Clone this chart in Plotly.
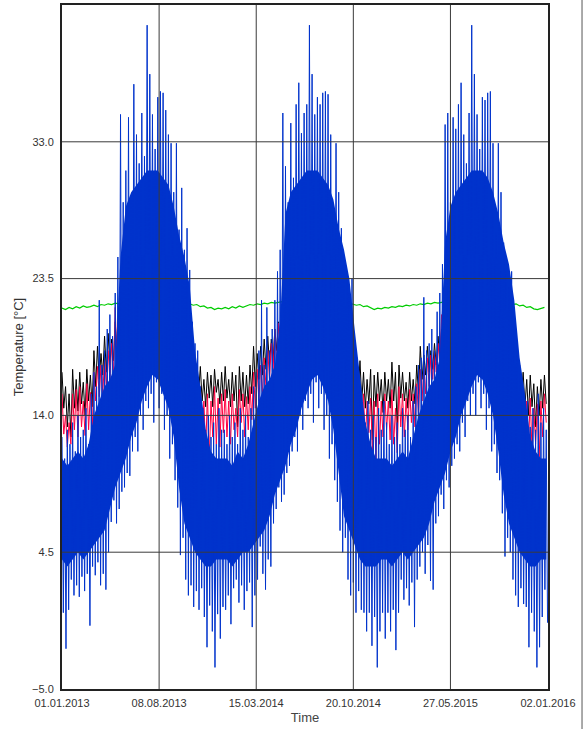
import pandas as pd
import plotly.graph_objects as go

# ---------------- data ----------------
START = "2013-01-01"
END = "2016-01-02"

# outdoor temperature (blue): sampled every 6 days, alternating high / low readings
blue_hi = [
    12.5, 11.0, 13.0, 12.0, 13.5, 11.5, 14.0, 12.5, 13.0, 14.5,
    12.0, 15.5, 17.0, 16.0, 22.0, 17.5, 18.5, 20.0, 21.0, 19.5,
    22.5, 25.0, 34.9, 28.8, 31.0, 34.7, 29.0, 37.0, 33.5, 31.5,
    35.0, 32.0, 41.1, 37.7, 34.9, 32.5, 36.1, 36.5, 36.4, 35.2,
    33.5, 32.9, 29.5, 32.9, 26.9, 29.8, 25.5, 27.0, 24.1, 20.5,
    19.0, 18.5, 16.0, 14.5, 13.0, 14.0, 12.5, 13.5, 12.0, 14.5,
    13.0,
    13.0, 12.0, 14.0, 12.5, 13.5, 12.0, 14.5, 13.0, 14.0, 12.5,
    14.5, 16.0, 17.0, 18.5, 22.0, 17.5, 21.5, 18.5, 20.0, 22.0,
    24.0, 25.5, 35.0, 31.3, 28.8, 34.3, 30.5, 35.6, 37.1, 33.6,
    35.0, 35.6, 41.1, 37.7, 34.9, 36.1, 35.6, 36.4, 36.5, 36.3,
    33.5, 28.1, 32.9, 29.5, 27.0, 25.0, 24.0, 22.5, 23.5, 19.0,
    18.0, 16.0, 14.5, 13.5, 15.0, 13.0, 14.0, 12.5, 14.5, 13.0,
    15.0,
    13.5, 12.0, 14.0, 12.5, 13.5, 12.0, 14.5, 13.0, 14.0, 12.5,
    15.0, 16.0, 17.5, 18.0, 22.2, 18.5, 19.0, 20.0, 18.5, 21.2,
    22.5, 24.5, 34.2, 35.0, 28.8, 34.7, 33.9, 35.6, 37.1, 33.5,
    31.5, 35.0, 41.1, 37.7, 34.9, 32.5, 36.1, 35.9, 36.4, 36.5,
    32.9, 26.7, 32.9, 29.5, 26.0, 24.0, 22.9, 24.0, 20.5, 19.0,
    17.0, 15.8, 14.0, 15.0, 13.2, 14.5, 13.0, 15.5, 13.5, 14.5,
    13.0,
]
blue_lo = [
    0.3, -2.2, 0.5, 2.6, 1.5, 2.2, 1.4, 2.8, 1.8, 3.0,
    -0.6, 3.5, 2.9, 3.8, 2.2, 3.0, 1.9, 4.5, 6.6, 8.1,
    6.5, 7.5, 8.7, 9.0, 10.0, 9.8, 11.5, 12.5, 11.5, 14.0,
    13.0, 15.0, 14.5, 15.5, 13.5, 16.3, 14.5, 15.5, 13.0, 14.0,
    11.0, 12.0, 9.5, 7.6, 4.3, 5.5, 2.6, 1.5, 2.2, 0.7,
    1.8, 0.5, 2.0, 0.0, -2.1, 0.8, -1.0, -3.5, 0.2, -1.5,
    0.7,
    0.5, 1.5, -0.5, 2.0, 2.6, 1.0, 2.2, 0.5, 1.8, 2.4,
    -0.7, 1.5, 2.6, 4.9, 3.0, 1.9, 4.0, 3.5, 6.5, 7.5,
    9.0, 8.0, 8.5, 10.0, 10.5, 11.5, 12.5, 11.5, 14.0, 13.0,
    15.0, 14.5, 15.5, 13.5, 16.3, 14.5, 15.5, 13.0, 14.0, 11.0,
    12.0, 9.5, 8.0, 6.0, 4.5, 5.5, 2.6, 1.5, 2.4, 0.3,
    1.8, 0.5, 0.3, -1.0, 0.3, -2.0, 0.0, -3.5, -1.0, 0.3,
    -1.5,
    0.3, -1.0, 0.5, -2.3, 0.3, 2.6, 1.2, 2.0, 0.8, 2.4,
    -0.7, 2.6, 3.5, 4.5, 3.0, 5.0, 2.5, 1.9, 6.5, 7.0,
    8.5, 7.5, 9.5, 9.0, 10.5, 11.0, 12.0, 11.5, 13.5, 12.5,
    15.0, 14.0, 15.5, 14.0, 16.3, 14.5, 15.5, 13.0, 14.5, 11.5,
    12.0, 10.0, 9.5, 7.2, 4.2, 5.5, 4.5, 2.6, 1.5, 0.7,
    2.0, 0.9, 0.7, -2.1, 0.3, -1.0, -3.5, -2.1, 0.0, 1.9,
    -0.4,
]
# dense core of the blue series (where the hourly trace is solid), every 12 days
blue_core_hi = [
    11.0, 10.5, 11.0, 11.5, 11.0, 12.0, 14.0, 15.0, 16.0, 16.5, 17.5, 25.0, 28.5, 29.5, 30.0, 30.5,
    31.0, 31.0, 31.0, 30.5, 30.0, 28.5, 26.5, 25.0, 23.0, 18.5, 16.0, 13.0, 11.5, 11.0, 11.0,
    11.0, 10.5, 11.5, 11.0, 12.0, 13.5, 15.0, 16.0, 16.5, 17.5, 20.5, 28.0, 29.5, 30.0, 30.5,
    31.0, 31.0, 31.0, 30.5, 30.0, 29.0, 27.0, 25.5, 23.5, 20.0, 16.5, 13.5, 12.0, 11.0, 11.0,
    11.0, 10.5, 11.0, 11.5, 11.0, 12.5, 14.0, 15.0, 16.0, 16.5, 18.0, 26.0, 28.5, 29.5, 30.0, 30.5,
    31.0, 31.0, 31.0, 30.5, 29.5, 28.0, 26.0, 24.5, 22.0, 18.0, 15.5, 12.5, 11.5, 11.0, 11.0,
]
blue_core_lo = [
    4.0, 3.5, 4.0, 4.5, 4.0, 4.5, 5.0, 5.5, 6.0, 7.5, 9.0, 10.0, 11.0, 12.5, 13.5, 15.0,
    16.0, 16.8, 16.5, 15.5, 14.5, 12.5, 9.0, 6.5, 5.5, 4.5, 4.0, 3.5, 3.5, 4.0, 4.0,
    4.0, 3.5, 4.0, 4.5, 4.5, 5.0, 5.5, 6.0, 7.0, 8.5, 9.5, 10.5, 12.0, 13.0, 14.5,
    15.5, 16.5, 16.8, 16.0, 15.0, 13.0, 10.0, 7.0, 6.0, 5.0, 4.0, 3.5, 3.5, 3.5, 4.0,
    4.0, 3.5, 4.0, 4.5, 4.0, 4.5, 5.0, 5.5, 6.5, 8.0, 9.0, 10.0, 11.5, 12.5, 14.0, 15.0,
    16.0, 16.8, 16.5, 15.5, 14.0, 11.5, 8.5, 6.5, 5.5, 4.5, 4.0, 3.5, 3.5, 4.0, 4.0,
]

# black / red / green series: sampled every 8 days
black_hi = [
    17.0, 16.0, 15.5, 17.2, 16.5, 17.0, 16.3, 17.2, 16.8, 18.5,
    18.8, 18.3, 19.5, 19.7, 19.3, 20.5, 20.5,
    20.8, 21.0, 20.6, 21.2, 20.9, 21.1, 20.7, 21.0, 21.2, 20.8, 21.0, 20.6, 20.9, 20.5, 20.2, 19.8, 19.5,
    19.0, 18.8, 18.2, 18.6, 17.5, 17.4, 16.5, 17.0, 16.8, 17.2, 16.5, 17.0,
    17.4, 16.5, 17.0, 16.8, 17.4, 17.0, 16.8, 17.5, 18.8, 18.3, 18.8, 19.3, 19.5, 19.3, 20.0, 20.5,
    20.8, 21.0, 20.6, 21.2, 20.9, 21.1, 20.7, 21.0, 21.2, 20.8, 21.0, 20.6, 20.9, 20.5, 20.2, 19.9, 19.7,
    19.5, 19.0, 18.5, 18.0, 17.4, 17.8, 17.0, 16.5, 17.2, 16.8, 17.0, 16.5, 17.0,
    16.5, 17.7, 17.0, 17.5, 17.0, 16.3, 17.0, 16.5, 17.5, 18.8, 18.2, 18.8, 18.5, 19.0, 19.5, 20.0, 20.5,
    20.8, 21.0, 20.6, 21.2, 20.9, 21.1, 20.7, 21.0, 21.2, 20.8, 21.0, 20.6, 20.9, 20.5, 20.2, 19.5, 18.8,
    18.0, 17.7, 17.2, 17.5, 17.0, 16.5, 16.8, 16.2, 16.0, 16.5, 16.8,
]
black_lo = [
    14.5, 13.2, 12.5, 14.5, 14.3, 14.8, 14.0, 15.0, 14.6, 16.0,
    16.5, 16.8, 17.0, 17.5, 17.8, 18.5, 19.0,
    19.2, 19.5, 19.0, 19.6, 19.3, 19.5, 19.1, 19.4, 19.6, 19.2, 19.4, 19.0, 19.3, 18.9, 18.6, 18.2, 18.0,
    17.5, 17.0, 16.8, 16.5, 15.5, 15.0, 14.6, 15.2, 14.6, 15.6, 14.8, 15.0,
    15.2, 14.6, 15.0, 13.2, 15.0, 14.6, 14.8, 15.5, 16.0, 16.5, 16.8, 17.2, 17.5, 17.8, 18.5, 19.0,
    19.2, 19.5, 19.0, 19.6, 19.3, 19.5, 19.1, 19.4, 19.6, 19.2, 19.4, 19.0, 19.3, 18.9, 18.6, 18.3, 18.0,
    17.8, 17.4, 16.8, 16.5, 15.5, 15.0, 14.5, 14.8, 12.3, 14.6, 15.0, 14.2, 15.0,
    14.5, 15.0, 13.0, 15.2, 15.0, 14.5, 15.0, 14.8, 15.5, 16.5, 16.8, 17.0, 17.2, 17.5, 18.0, 18.5, 19.0,
    19.2, 19.5, 19.0, 19.6, 19.3, 19.5, 19.1, 19.4, 19.6, 19.2, 19.4, 19.0, 19.3, 18.9, 18.6, 18.0, 17.2,
    16.5, 16.0, 15.8, 15.5, 14.6, 14.0, 14.6, 13.2, 14.0, 14.5, 14.8,
]
red_hi = [
    15.5, 14.0, 13.5, 15.5, 15.8, 16.0, 15.0, 16.2, 15.6, 17.0,
    17.4, 17.5, 18.0, 18.5, 19.0, 21.5, 20.5,
    20.6, 20.8, 20.4, 21.0, 20.7, 20.9, 20.5, 20.8, 21.0, 20.6, 20.8, 20.4, 20.7, 20.3, 19.8, 19.2, 18.8,
    18.0, 17.8, 17.5, 17.0, 16.5, 16.0, 15.0, 15.5, 15.0, 16.0, 15.2, 15.5,
    15.8, 15.0, 15.5, 14.5, 15.8, 15.5, 15.3, 16.0, 17.0, 17.2, 17.5, 18.0, 18.5, 19.0, 20.0, 20.4,
    20.6, 20.8, 20.4, 21.0, 20.7, 20.9, 20.5, 20.8, 21.0, 20.6, 20.8, 20.4, 20.7, 20.3, 19.9, 19.4, 19.0,
    18.5, 18.0, 17.5, 17.0, 16.5, 16.0, 15.5, 15.0, 15.2, 15.0, 15.5, 15.0, 15.5,
    15.0, 15.8, 14.5, 16.0, 15.5, 15.2, 15.8, 15.5, 16.2, 17.2, 17.5, 18.0, 18.2, 18.5, 19.0, 21.0, 21.5,
    20.6, 20.8, 20.4, 21.0, 20.7, 20.9, 20.5, 20.8, 21.0, 20.6, 20.8, 20.4, 20.7, 20.3, 19.8, 18.8, 18.0,
    17.0, 16.5, 16.2, 16.0, 15.5, 15.0, 15.2, 14.5, 14.8, 15.0, 15.5,
]
red_lo = [
    12.7, 11.8, 12.0, 13.0, 12.5, 13.2, 12.6, 13.0, 12.8, 15.0,
    15.3, 15.5, 16.0, 16.5, 16.8, 17.5, 18.0,
    18.6, 19.0, 18.5, 19.2, 18.8, 19.0, 18.6, 18.9, 19.1, 18.7, 18.9, 18.5, 18.8, 18.4, 18.0, 17.5, 17.0,
    16.5, 16.0, 15.5, 15.0, 14.0, 13.0, 11.5, 10.9, 12.5, 12.0, 11.8, 12.8,
    12.5, 12.0, 13.0, 12.5, 13.5, 12.5, 13.0, 13.7, 14.5, 15.0, 15.5, 16.0, 16.5, 17.0, 17.5, 18.5,
    18.6, 19.0, 18.5, 19.2, 18.8, 19.0, 18.6, 18.9, 19.1, 18.7, 18.9, 18.5, 18.8, 18.4, 18.0, 17.5, 17.0,
    16.5, 16.0, 15.0, 14.5, 13.5, 12.8, 12.0, 12.8, 11.5, 10.9, 12.0, 12.5, 13.0,
    12.3, 12.0, 11.4, 13.2, 12.5, 13.0, 13.5, 13.2, 14.0, 15.0, 15.5, 16.0, 16.5, 17.0, 17.5, 18.0, 18.5,
    18.6, 19.0, 18.5, 19.2, 18.8, 19.0, 18.6, 18.9, 19.1, 18.7, 18.9, 18.5, 18.8, 18.4, 17.8, 16.8, 16.0,
    15.0, 14.5, 14.0, 13.5, 12.8, 12.0, 11.5, 12.0, 10.9, 12.5, 13.5,
]
green = [
    21.45, 21.35, 21.5, 21.4, 21.55, 21.45, 21.6, 21.5, 21.55, 21.65, 21.55, 21.7, 21.65, 21.75, 21.7, 21.8, 21.75,
    21.85, 21.9, 21.85, 21.95, 21.9, 22.0, 21.9, 21.95, 21.9, 21.85, 21.9, 21.85, 21.8, 21.85, 21.8, 21.75, 21.8,
    21.8, 21.7, 21.75, 21.65, 21.7, 21.55, 21.6, 21.45, 21.5, 21.35, 21.45, 21.4,
    21.5, 21.4, 21.55, 21.45, 21.6, 21.5, 21.6, 21.7, 21.65, 21.75, 21.7, 21.8, 21.75, 21.85, 21.8, 21.85,
    21.9, 21.85, 21.95, 21.9, 22.0, 21.9, 21.95, 21.9, 21.85, 21.9, 21.85, 21.8, 21.85, 21.8, 21.85, 21.8, 21.75,
    21.8, 21.75, 21.8, 21.7, 21.65, 21.7, 21.55, 21.6, 21.45, 21.35, 21.45, 21.4, 21.5,
    21.45, 21.55, 21.5, 21.6, 21.55, 21.65, 21.6, 21.7, 21.65, 21.75, 21.7, 21.8, 21.75, 21.85, 21.8, 21.85, 21.9,
    21.85, 21.9, 21.95, 21.9, 22.0, 21.9, 21.95, 21.9, 21.85, 21.9, 21.85, 21.8, 21.85, 21.8, 21.75, 21.8, 21.75,
    21.75, 21.7, 21.75, 21.6, 21.65, 21.5, 21.55, 21.4, 21.35, 21.45, 21.5,
]

y_ticks = [-5.0, 4.5, 14.0, 23.5, 33.0]
x_tick_dates = ["2013-01-01", "2013-08-08", "2014-03-15", "2014-10-20", "2015-05-27", "2016-01-02"]
x_tick_labels = ["01.01.2013", "08.08.2013", "15.03.2014", "20.10.2014", "27.05.2015", "02.01.2016"]

# ---------------- build series ----------------
t0 = pd.Timestamp(START)


def zigzag(hi, lo, step):
    xs, ys = [], []
    for i, (h, l) in enumerate(zip(hi, lo)):
        xs.append(t0 + pd.Timedelta(days=step * i))
        ys.append(h)
        xs.append(t0 + pd.Timedelta(days=step * i + step / 2))
        ys.append(l)
    return xs, ys


bx, by = zigzag(blue_hi, blue_lo, 6)
kx, ky = zigzag(black_hi, black_lo, 8)
rx, ry = zigzag(red_hi, red_lo, 8)
gx = [t0 + pd.Timedelta(days=8 * i) for i in range(len(green))]
cx = [t0 + pd.Timedelta(days=12 * i) for i in range(len(blue_core_hi))]

BLUE = "#0033CC"
fig = go.Figure()
fig.add_trace(go.Scatter(x=gx, y=green, mode="lines", line=dict(color="#00CC00", width=1.2)))
fig.add_trace(go.Scatter(x=kx, y=ky, mode="lines", line=dict(color="#000000", width=1)))
fig.add_trace(go.Scatter(x=rx, y=ry, mode="lines", line=dict(color="#FF0040", width=1)))
fig.add_trace(go.Scatter(x=cx, y=blue_core_lo, mode="lines", line=dict(color=BLUE, width=0)))
fig.add_trace(go.Scatter(x=cx, y=blue_core_hi, mode="lines", line=dict(color=BLUE, width=0),
                         fill="tonexty", fillcolor=BLUE))
fig.add_trace(go.Scatter(x=bx, y=by, mode="lines", line=dict(color=BLUE, width=1)))

FONT = "Liberation Sans, Arial, sans-serif"
grid_col = "#3a3a3a"
shapes = []
for d in x_tick_dates[1:-1]:
    shapes.append(dict(type="line", xref="x", yref="paper", x0=d, x1=d, y0=0, y1=1,
                       line=dict(color=grid_col, width=1), layer="above"))
for v in y_ticks[1:]:
    shapes.append(dict(type="line", xref="paper", yref="y", x0=0, x1=1, y0=v, y1=v,
                       line=dict(color=grid_col, width=1), layer="above"))
# outer frame line at right edge of the picture
shapes.append(dict(type="line", xref="paper", yref="paper", x0=1.07, x1=1.07, y0=-0.06, y1=1.01,
                   line=dict(color="#555555", width=1), layer="above"))

fig.update_layout(
    width=585, height=729,
    margin=dict(l=62, r=37, t=5, b=40),
    paper_bgcolor="white", plot_bgcolor="white",
    showlegend=False,
    font=dict(family=FONT, size=11, color="#333333"),
    shapes=shapes,
    xaxis=dict(
        type="date", range=[START, END], automargin=False,
        tickvals=x_tick_dates, ticktext=x_tick_labels,
        showgrid=False, zeroline=False,
        showline=True, mirror=True, linewidth=2, linecolor="#222222",
        ticks="outside", ticklen=3, tickcolor="rgba(0,0,0,0)",
        tickfont=dict(size=11, color="#333333"),
        title=dict(text="Time", font=dict(size=13, color="#444444"), standoff=5),
        layer="above traces",
    ),
    yaxis=dict(
        range=[-5, 42.5], automargin=False,
        tickvals=y_ticks, tickformat=".1f",
        showgrid=False, zeroline=False,
        showline=True, mirror=True, linewidth=2, linecolor="#222222",
        ticks="outside", ticklen=4, tickcolor="rgba(0,0,0,0)",
        tickfont=dict(size=11, color="#333333"),
        title=dict(text="Temperature [°C]", font=dict(size=13, color="#333333"), standoff=6),
        layer="above traces",
    ),
)

fig.write_html("out.html", config={"displayModeBar": False},
               post_script="document.body.style.margin='0';")
